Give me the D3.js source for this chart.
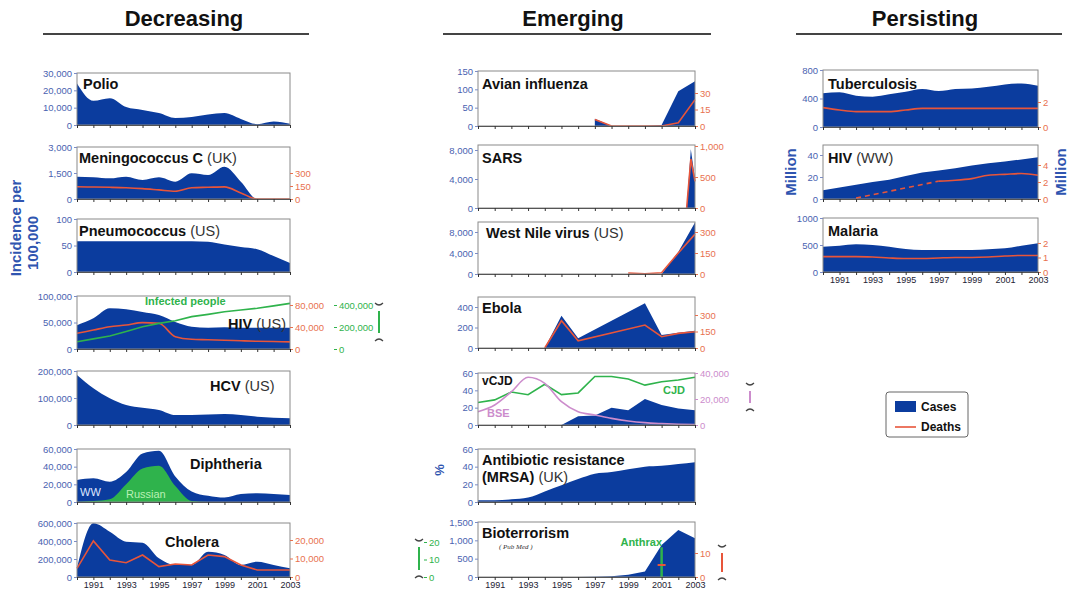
<!DOCTYPE html>
<html>
<head>
<meta charset="utf-8">
<script src="https://cdnjs.cloudflare.com/ajax/libs/d3/7.8.5/d3.min.js"></script>
<style>
  body { margin: 0; background: #fff; }
  text { font-family: "Liberation Sans", Arial, sans-serif; }
</style>
</head>
<body>
<div id="chart"></div>
<script>
// ---- data ----
var years = [1990, 1991, 1992, 1993, 1994, 1995, 1996, 1997, 1998, 1999, 2000, 2001, 2002, 2003];

// Decreasing
var polio = [24000, 14000, 15500, 10400, 8700, 6900, 4000, 4600, 6000, 6900, 3500, 500, 2000, 700];
var meningCases = [1290, 1250, 1190, 1290, 1100, 1250, 1000, 1480, 1380, 1860, 1000, 0, 0, 0];
var meningDeaths = [142, 138, 135, 130, 120, 105, 90, 130, 135, 140, 70, 0, 0, 0];
var pneumo = [58, 58, 58, 58, 58, 58, 58, 58, 57, 52, 47, 43, 30, 17];
var hivUSCases = [45000, 58000, 77000, 75000, 70000, 64000, 51000, 42000, 40000, 41000, 40000, 40000, 40000, 40000];
var hivUSDeaths = [28500, 34500, 40500, 43600, 48000, 46700, 22400, 17600, 16900, 16000, 15000, 14000, 13500, 13000];
var hivUSInfected = [66000, 92000, 118000, 160000, 203000, 233000, 257000, 294000, 315000, 339000, 355000, 370000, 392000, 415000];
var hcv = [185000, 136000, 99000, 74000, 64000, 56000, 37000, 37000, 39000, 41000, 37000, 31000, 27000, 25000];
var diphWW = [25000, 27000, 23000, 34000, 55000, 58000, 29000, 12000, 7000, 5000, 9000, 10000, 9000, 8000];
var diphRussia = [0, 1000, 3000, 20000, 38000, 41000, 18000, 1000, 0, 0, 0, 0, 0, 0];
var cholera = [96000, 596000, 503000, 392000, 381000, 207000, 133000, 133000, 281000, 244000, 133000, 170000, 133000, 96000];
var choleraDeaths = [4700, 19500, 9200, 7700, 11900, 5600, 7000, 6500, 11900, 11000, 6500, 3800, 3800, 3800];

// Emerging
var avianCases = [null, null, null, null, null, null, null, 20, 0, 0, 0, 3, 95, 122];
var avianDeaths = [null, null, null, null, null, null, null, 6, 0, 0, 0, 0, 3, 24];
var sarsYears = [2002.5, 2002.75, 2003];
var sarsCases = [0, 8100, 4000];
var sarsDeaths = [0, 790, 430];
var wnvCases = [null, null, null, null, null, null, null, null, null, 0, 0, 0, 4200, 9800];
var wnvDeaths = [null, null, null, null, null, null, null, null, null, 7, 2, 9, 150, 285];
var ebolaYears = [1994, 1995, 1996, 2000, 2001, 2002, 2003];
var ebolaCases = [0, 315, 94, 436, 127, 150, 169];
var ebolaDeaths = [0, 248, 66, 209, 103, 133, 148];
var vcjd = [null, null, null, null, null, 0, 10, 11, 20, 17, 30, 23, 19, 17];
var cjd = [26, 29, 38, 35, 47, 35, 37, 56, 56, 53, 46, 50, 52, 55];
var bse = [10200, 15400, 25600, 36700, 32000, 17900, 10200, 7700, 5100, 3100, 1800, 1100, 600, 300];
var mrsa = [2, 2, 3, 5, 12, 19, 26, 32, 34, 37, 40, 41, 43, 45];
var bioterror = [0, 0, 0, 0, 0, 0, 0, 5, 20, 60, 150, 873, 1281, 1055];
var anthraxYears = [2001];
var anthraxCases = [17];
var anthraxDeaths = [5];

// Persisting
var tb = [472, 486, 439, 425, 458, 495, 533, 505, 533, 542, 565, 598, 612, 580];
var tbDeaths = [1.55, 1.36, 1.23, 1.23, 1.23, 1.36, 1.49, 1.49, 1.49, 1.49, 1.49, 1.49, 1.49, 1.49];
var hivWW = [8, 10.5, 13, 15.5, 17.5, 21, 24, 26, 28, 30.5, 32.5, 34, 36, 38];
var hivWWDeathsEst = [null, null, 0.1, 0.5, 0.9, 1.3, 1.7, 2.1, null, null, null, null, null, null];
var hivWWDeaths = [null, null, null, null, null, null, null, 2.1, 2.2, 2.4, 2.8, 2.9, 3.0, 2.8];
var malaria = [469, 487, 512, 500, 469, 426, 407, 407, 407, 407, 420, 438, 487, 531];
var malariaDeaths = [1.06, 1.06, 1.06, 1.03, 0.97, 0.93, 0.93, 0.97, 1.0, 1.0, 1.03, 1.1, 1.14, 1.14];

// ---- drawing ----
var blue = "#0b3c9e", red = "#e8553a", green = "#2fb34c", purple = "#cc8ccc";
var tickBlue = "#4a62b0", tickRed = "#e8714f";

var svg = d3.select("#chart").append("svg")
    .attr("width", 1079)
    .attr("height", 593);

var col1 = {x0: 77, x1: 290}, col2 = {x0: 478, x1: 695}, col3 = {x0: 823, x1: 1038};

function panel(col, top, bottom) {
  return {
    g: svg.append("g"),
    x: d3.scaleLinear().domain([1990, 2003]).range([col.x0, col.x1]),
    col: col, top: top, bottom: bottom
  };
}

function pairs(xs, vals) {
  return xs.map(function(d, i) { return [d, vals[i]]; });
}

function fillArea(p, xs, vals, y, color, curve) {
  var area = d3.area()
      .defined(function(d) { return d[1] != null; })
      .x(function(d) { return p.x(d[0]); })
      .y0(p.bottom)
      .y1(function(d) { return y(d[1]); })
      .curve(curve || d3.curveMonotoneX);
  p.g.append("path").datum(pairs(xs, vals)).attr("d", area).attr("fill", color);
}

function drawLine(p, xs, vals, y, color, dash, curve) {
  var line = d3.line()
      .defined(function(d) { return d[1] != null; })
      .x(function(d) { return p.x(d[0]); })
      .y(function(d) { return y(d[1]); })
      .curve(curve || d3.curveMonotoneX);
  p.g.append("path").datum(pairs(xs, vals)).attr("d", line)
    .attr("fill", "none").attr("stroke", color).attr("stroke-width", 1.6)
    .attr("stroke-dasharray", dash || null);
}

function frame(p) {
  p.g.append("rect")
    .attr("x", p.col.x0).attr("y", p.top)
    .attr("width", p.col.x1 - p.col.x0).attr("height", p.bottom - p.top)
    .attr("fill", "none").attr("stroke", "#8a8a8a").attr("stroke-width", 1);
}

function leftAxis(p, y, ticks, fmt) {
  var ax = p.g.append("g")
      .attr("transform", "translate(" + p.col.x0 + ",0)")
      .call(d3.axisLeft(y).tickValues(ticks).tickSize(3).tickPadding(2).tickFormat(fmt || d3.format(",")));
  ax.select(".domain").remove();
  ax.selectAll("line").attr("stroke", "#7d8cc4");
  ax.selectAll("text").attr("fill", tickBlue).style("font-size", "9.5px");
}

function rightAxis(p, y, ticks, color, xPos, fmt) {
  var ax = p.g.append("g")
      .attr("transform", "translate(" + (xPos || p.col.x1) + ",0)")
      .call(d3.axisRight(y).tickValues(ticks).tickSize(3).tickPadding(2).tickFormat(fmt || d3.format(",")));
  ax.select(".domain").remove();
  ax.selectAll("line").attr("stroke", color);
  ax.selectAll("text").attr("fill", color).style("font-size", "9.5px");
}

function yearAxis(p, labels) {
  var ax = p.g.append("g")
      .attr("transform", "translate(0," + p.bottom + ")")
      .call(d3.axisBottom(p.x).tickValues(years).tickSize(3).tickPadding(2)
        .tickFormat(function(d) { return labels && d % 2 == 1 ? d : ""; }));
  ax.select(".domain").attr("stroke", "#555");
  ax.selectAll("line").attr("stroke", "#333");
  ax.selectAll("text").attr("fill", "#223").style("font-size", "9px");
}

function title(p, x, y, bold, normal, size) {
  var t = p.g.append("text").attr("x", x).attr("y", y)
      .style("font-size", (size || 14.5) + "px").attr("fill", "#111");
  t.append("tspan").style("font-weight", "bold").text(bold);
  if (normal) t.append("tspan").attr("fill", "#333").text(normal);
}

function bracket(x, y1, y2, color) {
  var b = svg.append("g");
  b.append("path").attr("d", "M" + (x - 4) + "," + y1 + " Q" + x + "," + (y1 + 4) + " " + (x + 4) + "," + y1)
    .attr("fill", "none").attr("stroke", "#444").attr("stroke-width", 1.2);
  b.append("path").attr("d", "M" + (x - 4) + "," + y2 + " Q" + x + "," + (y2 - 4) + " " + (x + 4) + "," + y2)
    .attr("fill", "none").attr("stroke", "#444").attr("stroke-width", 1.2);
  b.append("line").attr("x1", x).attr("x2", x).attr("y1", y1 + 8).attr("y2", y2 - 8)
    .attr("stroke", color).attr("stroke-width", 2);
}

// section headers
[["Decreasing", 184, 43, 309], ["Emerging", 573, 443, 711], ["Persisting", 925, 796, 1062]].forEach(function(h) {
  svg.append("text").attr("x", h[1]).attr("y", 26).attr("text-anchor", "middle")
    .style("font-size", "22px").style("font-weight", "bold").attr("fill", "#111").text(h[0]);
  svg.append("line").attr("x1", h[2]).attr("x2", h[3]).attr("y1", 34).attr("y2", 34)
    .attr("stroke", "#444").attr("stroke-width", 2);
});

// ===== Decreasing =====
var p, y, y2, y3;

p = panel(col1, 73, 125);
y = d3.scaleLinear().domain([0, 30000]).range([125, 73]);
fillArea(p, years, polio, y, blue);
frame(p); leftAxis(p, y, [0, 10000, 20000, 30000]); yearAxis(p, false);
title(p, 83, 89, "Polio");

p = panel(col1, 147, 199);
y = d3.scaleLinear().domain([0, 3000]).range([199, 147]);
y2 = d3.scaleLinear().domain([0, 600]).range([199, 147]);
fillArea(p, years, meningCases, y, blue);
drawLine(p, years, meningDeaths, y2, red);
frame(p); leftAxis(p, y, [0, 1500, 3000]); rightAxis(p, y2, [0, 150, 300], tickRed); yearAxis(p, false);
title(p, 79, 163, "Meningococcus C", " (UK)");

p = panel(col1, 219, 272);
y = d3.scaleLinear().domain([0, 100]).range([272, 219]);
fillArea(p, years, pneumo, y, blue);
frame(p); leftAxis(p, y, [0, 50, 100]); yearAxis(p, false);
title(p, 79, 236, "Pneumococcus", " (US)");

p = panel(col1, 296, 349);
y = d3.scaleLinear().domain([0, 100000]).range([349, 296]);
y2 = d3.scaleLinear().domain([0, 80000]).range([349, 305]);
y3 = d3.scaleLinear().domain([0, 400000]).range([349, 305]);
fillArea(p, years, hivUSCases, y, blue);
drawLine(p, years, hivUSDeaths, y2, red);
drawLine(p, years, hivUSInfected, y3, green, null, d3.curveLinear);
frame(p); leftAxis(p, y, [0, 50000, 100000]); rightAxis(p, y2, [0, 40000, 80000], tickRed);
rightAxis(p, y3, [0, 200000, 400000], green, 334); yearAxis(p, false);
p.g.append("text").attr("x", 145).attr("y", 305).attr("fill", green)
  .style("font-size", "11px").style("font-weight", "bold").text("Infected people");
title(p, 228, 329, "HIV", " (US)");
bracket(379, 303, 341, green);

p = panel(col1, 371, 425);
y = d3.scaleLinear().domain([0, 200000]).range([425, 371]);
fillArea(p, years, hcv, y, blue);
frame(p); leftAxis(p, y, [0, 100000, 200000]); yearAxis(p, false);
title(p, 210, 391, "HCV", " (US)");

p = panel(col1, 449, 502);
y = d3.scaleLinear().domain([0, 60000]).range([502, 449]);
fillArea(p, years, diphWW, y, blue);
fillArea(p, years, diphRussia, y, green);
frame(p); leftAxis(p, y, [0, 20000, 40000, 60000]); yearAxis(p, false);
title(p, 190, 469, "Diphtheria");
p.g.append("text").attr("x", 80).attr("y", 496).attr("fill", "#dfe6ff").style("font-size", "11px").text("WW");
p.g.append("text").attr("x", 126).attr("y", 498).attr("fill", "#b9f0b4").style("font-size", "11px").text("Russian");

p = panel(col1, 523, 577);
y = d3.scaleLinear().domain([0, 600000]).range([577, 523]);
y2 = d3.scaleLinear().domain([0, 20000]).range([577, 540]);
fillArea(p, years, cholera, y, blue);
drawLine(p, years, choleraDeaths, y2, red, null, d3.curveLinear);
frame(p); leftAxis(p, y, [0, 200000, 400000, 600000]); rightAxis(p, y2, [0, 10000, 20000], tickRed); yearAxis(p, true);
title(p, 165, 547, "Cholera");

svg.append("text").attr("transform", "translate(21,228) rotate(-90)").attr("text-anchor", "middle")
  .style("font-size", "15px").style("font-weight", "bold").attr("fill", "#2f55b0").text("Incidence per");
svg.append("text").attr("transform", "translate(38,243) rotate(-90)").attr("text-anchor", "middle")
  .style("font-size", "15px").style("font-weight", "bold").attr("fill", "#2f55b0").text("100,000");

// ===== Emerging =====
p = panel(col2, 71, 126);
y = d3.scaleLinear().domain([0, 150]).range([126, 71]);
y2 = d3.scaleLinear().domain([0, 30]).range([126, 93]);
fillArea(p, years, avianCases, y, blue, d3.curveLinear);
drawLine(p, years, avianDeaths, y2, red, null, d3.curveLinear);
frame(p); leftAxis(p, y, [0, 50, 100, 150]); rightAxis(p, y2, [0, 15, 30], tickRed); yearAxis(p, false);
title(p, 482, 89, "Avian influenza");

p = panel(col2, 145, 208);
y = d3.scaleLinear().domain([0, 8000]).range([208, 150]);
y2 = d3.scaleLinear().domain([0, 1000]).range([208, 146]);
fillArea(p, sarsYears, sarsCases, y, blue, d3.curveLinear);
drawLine(p, sarsYears, sarsDeaths, y2, red, null, d3.curveLinear);
frame(p); leftAxis(p, y, [0, 4000, 8000]); rightAxis(p, y2, [0, 500, 1000], tickRed); yearAxis(p, false);
title(p, 482, 163, "SARS");

p = panel(col2, 222, 274);
y = d3.scaleLinear().domain([0, 8000]).range([274, 232]);
y2 = d3.scaleLinear().domain([0, 300]).range([274, 232]);
fillArea(p, years, wnvCases, y, blue, d3.curveLinear);
drawLine(p, years, wnvDeaths, y2, red, null, d3.curveLinear);
frame(p); leftAxis(p, y, [0, 4000, 8000]); rightAxis(p, y2, [0, 150, 300], tickRed); yearAxis(p, false);
title(p, 486, 238, "West Nile virus", " (US)");

p = panel(col2, 297, 348);
y = d3.scaleLinear().domain([0, 400]).range([348, 307]);
y2 = d3.scaleLinear().domain([0, 300]).range([348, 315]);
fillArea(p, ebolaYears, ebolaCases, y, blue, d3.curveLinear);
drawLine(p, ebolaYears, ebolaDeaths, y2, red, null, d3.curveLinear);
frame(p); leftAxis(p, y, [0, 200, 400]); rightAxis(p, y2, [0, 150, 300], tickRed); yearAxis(p, false);
title(p, 482, 313, "Ebola");

p = panel(col2, 373, 425);
y = d3.scaleLinear().domain([0, 60]).range([425, 373]);
y2 = d3.scaleLinear().domain([0, 40000]).range([425, 373]);
fillArea(p, years, vcjd, y, blue, d3.curveLinear);
drawLine(p, years, cjd, y, green, null, d3.curveLinear);
drawLine(p, years, bse, y2, purple);
frame(p); leftAxis(p, y, [0, 20, 40, 60]); rightAxis(p, y2, [0, 20000, 40000], purple); yearAxis(p, false);
title(p, 482, 385, "vCJD", null, 12);
p.g.append("text").attr("x", 663).attr("y", 394).attr("fill", green).style("font-size", "11px").style("font-weight", "bold").text("CJD");
p.g.append("text").attr("x", 487).attr("y", 417).attr("fill", purple).style("font-size", "11px").style("font-weight", "bold").text("BSE");
bracket(750, 383, 411, purple);

p = panel(col2, 449, 502);
y = d3.scaleLinear().domain([0, 60]).range([502, 449]);
fillArea(p, years, mrsa, y, blue);
frame(p); leftAxis(p, y, [0, 20, 40, 60]); yearAxis(p, false);
title(p, 482, 465, "Antibiotic resistance");
title(p, 482, 482, "(MRSA)", " (UK)");
svg.append("text").attr("transform", "translate(444,470) rotate(-90)").attr("text-anchor", "middle")
  .style("font-size", "13px").style("font-weight", "bold").attr("fill", "#2f55b0").text("%");

p = panel(col2, 522, 577);
y = d3.scaleLinear().domain([0, 1500]).range([577, 522]);
y2 = d3.scaleLinear().domain([0, 10]).range([577, 553]);
y3 = d3.scaleLinear().domain([0, 20]).range([577, 542]);
fillArea(p, years, bioterror, y, blue, d3.curveLinear);
p.g.selectAll(".anthrax").data(anthraxYears).enter().append("line")
  .attr("x1", function(d) { return p.x(d); }).attr("x2", function(d) { return p.x(d); })
  .attr("y1", y3(0)).attr("y2", function(d, i) { return y3(anthraxCases[i]); })
  .attr("stroke", green).attr("stroke-width", 2.5);
p.g.selectAll(".anthraxD").data(anthraxYears).enter().append("line")
  .attr("x1", function(d) { return p.x(d) - 4; }).attr("x2", function(d) { return p.x(d) + 4; })
  .attr("y1", function(d, i) { return y2(anthraxDeaths[i]); }).attr("y2", function(d, i) { return y2(anthraxDeaths[i]); })
  .attr("stroke", red).attr("stroke-width", 2);
frame(p); leftAxis(p, y, [0, 500, 1000, 1500]); rightAxis(p, y2, [0, 10], tickRed); yearAxis(p, true);
rightAxis(p, y3, [0, 10, 20], green, 424);
title(p, 482, 538, "Bioterrorism");
p.g.append("text").attr("x", 499).attr("y", 549).attr("fill", "#333").style("font-size", "7px")
  .style("font-style", "italic").style("font-family", "Liberation Serif, serif").text("( Pub Med )");
p.g.append("text").attr("x", 662).attr("y", 546).attr("text-anchor", "end").attr("fill", green)
  .style("font-size", "11px").style("font-weight", "bold").text("Anthrax");
bracket(419, 539, 578, green);
bracket(722, 545, 580, red);

// ===== Persisting =====
p = panel(col3, 70, 127);
y = d3.scaleLinear().domain([0, 800]).range([127, 70]);
y2 = d3.scaleLinear().domain([0, 2]).range([127, 102]);
fillArea(p, years, tb, y, blue);
drawLine(p, years, tbDeaths, y2, red);
frame(p); leftAxis(p, y, [0, 400, 800]); rightAxis(p, y2, [0, 2], tickRed); yearAxis(p, false);
title(p, 828, 89, "Tuberculosis");

p = panel(col3, 145, 199);
y = d3.scaleLinear().domain([0, 40]).range([199, 155]);
y2 = d3.scaleLinear().domain([0, 4]).range([199, 165]);
fillArea(p, years, hivWW, y, blue, d3.curveLinear);
drawLine(p, years, hivWWDeathsEst, y2, red, "5,4", d3.curveLinear);
drawLine(p, years, hivWWDeaths, y2, red);
frame(p); leftAxis(p, y, [0, 20, 40]); rightAxis(p, y2, [0, 2, 4], tickRed); yearAxis(p, false);
title(p, 828, 163, "HIV", " (WW)");

p = panel(col3, 218, 272);
y = d3.scaleLinear().domain([0, 1000]).range([272, 218]);
y2 = d3.scaleLinear().domain([0, 2]).range([272, 243]);
fillArea(p, years, malaria, y, blue);
drawLine(p, years, malariaDeaths, y2, red);
frame(p); leftAxis(p, y, [0, 500, 1000], d3.format("d")); rightAxis(p, y2, [0, 1, 2], tickRed); yearAxis(p, true);
title(p, 828, 236, "Malaria");

svg.append("text").attr("transform", "translate(796,172) rotate(-90)").attr("text-anchor", "middle")
  .style("font-size", "15px").style("font-weight", "bold").attr("fill", "#2f55b0").text("Million");
svg.append("text").attr("transform", "translate(1066,172) rotate(-90)").attr("text-anchor", "middle")
  .style("font-size", "15px").style("font-weight", "bold").attr("fill", "#2f55b0").text("Million");

// legend
var lg = svg.append("g");
lg.append("rect").attr("x", 886).attr("y", 392).attr("width", 82).attr("height", 45).attr("rx", 3)
  .attr("fill", "#fff").attr("stroke", "#666");
lg.append("rect").attr("x", 895).attr("y", 401).attr("width", 21).attr("height", 11).attr("fill", blue);
lg.append("line").attr("x1", 895).attr("x2", 916).attr("y1", 427).attr("y2", 427).attr("stroke", red).attr("stroke-width", 1.6);
lg.append("text").attr("x", 921).attr("y", 411).style("font-size", "12px").style("font-weight", "bold").attr("fill", "#111").text("Cases");
lg.append("text").attr("x", 921).attr("y", 431).style("font-size", "12px").style("font-weight", "bold").attr("fill", "#111").text("Deaths");
</script>
</body>
</html>
